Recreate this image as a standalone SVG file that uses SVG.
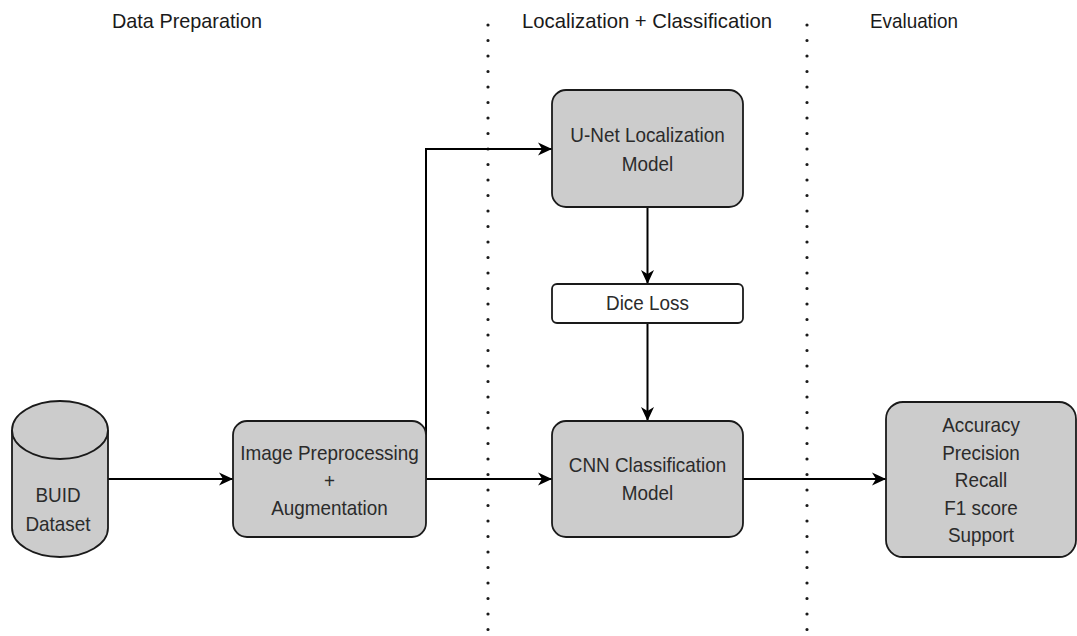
<svg xmlns="http://www.w3.org/2000/svg" width="1077" height="636" viewBox="0 0 1077 636">
  <style>
    .box { fill: #cccccc; stroke: #1a1a1a; stroke-width: 1.8; }
    .plain { fill: #ffffff; stroke: #1a1a1a; stroke-width: 1.8; }
    .lbl { font-family: "Liberation Sans", Arial, sans-serif; font-size: 21px; fill: #2b2b2b; text-anchor: middle; }
    .head { font-family: "Liberation Sans", Arial, sans-serif; font-size: 21px; fill: #1a1a1a; text-anchor: middle; }
    .edge { fill: none; stroke: #000000; stroke-width: 2; marker-end: url(#arrow); }
    .sep { stroke: #1a1a1a; stroke-width: 3.2; stroke-linecap: round; stroke-dasharray: 0 15.5; }
  </style>
  <defs>
    <marker id="arrow" markerUnits="userSpaceOnUse" markerWidth="15" markerHeight="14" refX="14" refY="7" orient="auto">
      <path d="M0,0.5 L14,7 L0,13.5 L4,7 Z" fill="#000000"/>
    </marker>
  </defs>

  <rect width="1077" height="636" fill="#ffffff"/>

  <!-- stage headers -->
  <g id="headers">
    <text class="head" x="187" y="28" textLength="150" lengthAdjust="spacingAndGlyphs">Data Preparation</text>
    <text class="head" x="647" y="28" textLength="250" lengthAdjust="spacingAndGlyphs">Localization + Classification</text>
    <text class="head" x="914" y="28" textLength="88" lengthAdjust="spacingAndGlyphs">Evaluation</text>
  </g>

  <!-- dotted stage separators -->
  <g id="separators">
    <line class="sep" x1="488" y1="25" x2="488" y2="636"/>
    <line class="sep" x1="807" y1="25" x2="807" y2="636"/>
  </g>

  <!-- connectors -->
  <g id="connectors">
    <path class="edge" d="M108,479 H233"/>
    <path class="edge" d="M426,479 V149 H552"/>
    <path class="edge" d="M426,479 H552"/>
    <path class="edge" d="M647.5,207 V284"/>
    <path class="edge" d="M647.5,323 V421"/>
    <path class="edge" d="M743,479 H886"/>
  </g>

  <g id="buid-dataset">
    <path class="box" d="M12,430 A48,29 0 0 1 108,430 V528 A48,29 0 0 1 12,528 Z"/>
    <path fill="none" stroke="#1a1a1a" stroke-width="1.8" d="M12,430 A48,29 0 0 0 108,430"/>
    <text class="lbl" transform="translate(58,502) scale(0.9,1)">BUID</text>
    <text class="lbl" transform="translate(58,531) scale(0.9,1)">Dataset</text>
  </g>

  <g id="preprocessing">
    <rect class="box" x="233" y="421" width="193" height="116" rx="14"/>
    <text class="lbl" transform="translate(329.5,460) scale(0.9,1)">Image Preprocessing</text>
    <text class="lbl" transform="translate(329.5,487.5) scale(0.9,1)">+</text>
    <text class="lbl" transform="translate(329.5,515) scale(0.9,1)">Augmentation</text>
  </g>

  <g id="unet">
    <rect class="box" x="552" y="90" width="191" height="117" rx="14"/>
    <text class="lbl" transform="translate(647.5,142) scale(0.9,1)">U-Net Localization</text>
    <text class="lbl" transform="translate(647.5,171) scale(0.9,1)">Model</text>
  </g>

  <g id="dice-loss">
    <rect class="plain" x="552" y="284" width="191" height="39" rx="5"/>
    <text class="lbl" transform="translate(647.5,310) scale(0.9,1)">Dice Loss</text>
  </g>

  <g id="cnn">
    <rect class="box" x="552" y="421" width="191" height="116" rx="14"/>
    <text class="lbl" transform="translate(647.5,472) scale(0.9,1)">CNN Classification</text>
    <text class="lbl" transform="translate(647.5,500) scale(0.9,1)">Model</text>
  </g>

  <g id="metrics">
    <rect class="box" x="886" y="402" width="190" height="155" rx="17"/>
    <text class="lbl" transform="translate(981,432) scale(0.9,1)">Accuracy</text>
    <text class="lbl" transform="translate(981,459.5) scale(0.9,1)">Precision</text>
    <text class="lbl" transform="translate(981,487) scale(0.9,1)">Recall</text>
    <text class="lbl" transform="translate(981,514.5) scale(0.9,1)">F1 score</text>
    <text class="lbl" transform="translate(981,542) scale(0.9,1)">Support</text>
  </g>
</svg>
